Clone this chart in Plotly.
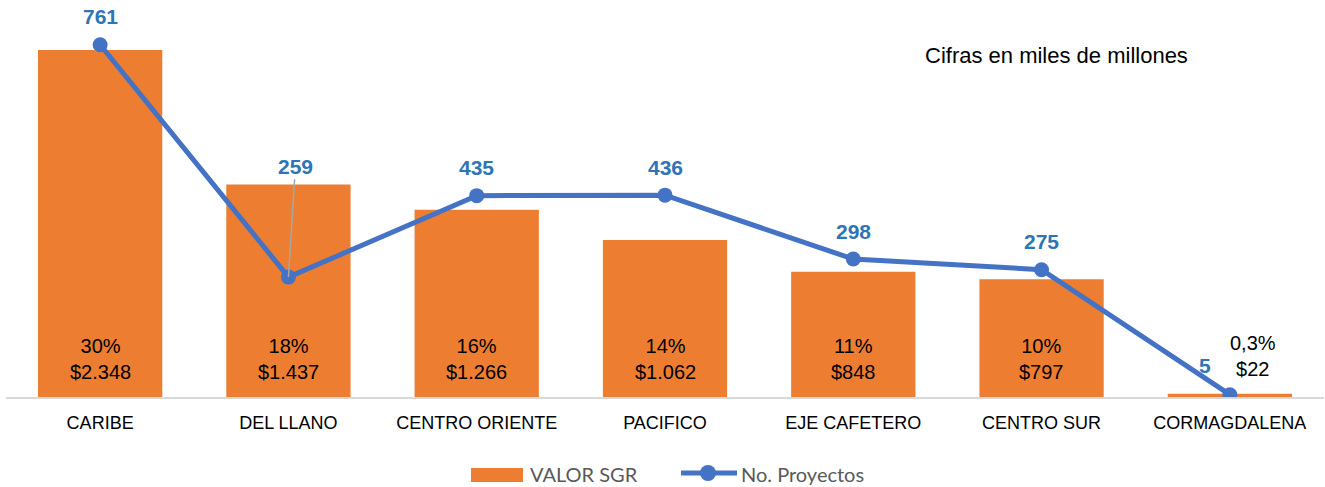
import plotly.graph_objects as go

categories = ["CARIBE", "DEL LLANO", "CENTRO ORIENTE", "PACIFICO", "EJE CAFETERO", "CENTRO SUR", "CORMAGDALENA"]
valor_sgr = [2348, 1437, 1266, 1062, 848, 797, 22]
valor_labels = ["$2.348", "$1.437", "$1.266", "$1.062", "$848", "$797", "$22"]
pct_labels = ["30%", "18%", "16%", "14%", "11%", "10%", "0,3%"]
proyectos = [761, 259, 435, 436, 298, 275, 5]

FONT = "Liberation Sans Narrow, Arial Narrow, Liberation Sans, Arial, sans-serif"
LEGFONT = "Lato, Open Sans, sans-serif"
ORANGE = "#ED7D31"
BLUE = "#4472C4"
LBLUE = "#2E75B6"

# plot-area geometry helpers (pixels -> paper)
L, R, T, B = 6, 1, 10, 90
W, H = 1325, 487
PW, PH = W - L - R, H - T - B


def px(x):
    return (x - L) / PW


def py(y):
    return (H - B - y) / PH


fig = go.Figure()
fig.add_trace(go.Bar(
    x=categories, y=valor_sgr, name="VALOR SGR",
    marker=dict(color=ORANGE, line=dict(width=0)),
    yaxis="y", hoverinfo="skip",
))
fig.add_trace(go.Scatter(
    x=categories, y=proyectos, name="No. Proyectos",
    mode="lines+markers",
    line=dict(color=BLUE, width=5),
    marker=dict(color=BLUE, size=15),
    yaxis="y2", hoverinfo="skip",
))

annotations = []
for i, (c, v, p, lab) in enumerate(zip(categories, valor_sgr, pct_labels, valor_labels)):
    if i < len(categories) - 1:
        annotations.append(dict(
            x=c, y=0, xref="x", yref="y", text=f"{p}<br>{lab}",
            showarrow=False, yanchor="bottom", yshift=12,
            font=dict(family=FONT, size=20, color="#000000"),
        ))
    else:
        annotations.append(dict(
            x=c, y=v, xref="x", yref="y", text=f"{p}<br>{lab}",
            showarrow=False, yanchor="bottom", yshift=12, xshift=23,
            font=dict(family=FONT, size=20, color="#000000"),
        ))

for c, n in zip(categories, proyectos):
    if c == "DEL LLANO":
        annotations.append(dict(
            x=c, y=n, xref="x", yref="y2", text=f"<b>{n}</b>",
            showarrow=True, arrowhead=0, arrowwidth=1.5, arrowcolor="#A6A6A6",
            ax=7, ay=-111, standoff=0,
            font=dict(family=FONT, size=21, color=LBLUE),
        ))
    elif c == "CORMAGDALENA":
        annotations.append(dict(
            x=c, y=n, xref="x", yref="y2", text=f"<b>{n}</b>",
            showarrow=False, xshift=-25, yshift=29,
            font=dict(family=FONT, size=21, color=LBLUE),
        ))
    else:
        annotations.append(dict(
            x=c, y=n, xref="x", yref="y2", text=f"<b>{n}</b>",
            showarrow=False, yshift=28,
            font=dict(family=FONT, size=21, color=LBLUE),
        ))

annotations.append(dict(
    x=px(1056), y=py(56), xref="paper", yref="paper", text="Cifras en miles de millones",
    xanchor="center", yanchor="middle",
    showarrow=False, font=dict(family=FONT, size=22, color="#000000"),
))

# custom legend
annotations.append(dict(
    x=px(528), y=py(474), xref="paper", yref="paper", text="VALOR SGR",
    xanchor="left", yanchor="middle", showarrow=False,
    font=dict(family=LEGFONT, size=20, color="#595959"),
))
annotations.append(dict(
    x=px(739), y=py(474), xref="paper", yref="paper", text="No. Proyectos",
    xanchor="left", yanchor="middle", showarrow=False,
    font=dict(family=LEGFONT, size=20, color="#595959"),
))
shapes = [
    dict(type="rect", xref="paper", yref="paper", x0=px(471), x1=px(523), y0=py(482), y1=py(468),
         fillcolor=ORANGE, line=dict(width=0)),
    dict(type="line", xref="paper", yref="paper", x0=px(681), x1=px(737), y0=py(473), y1=py(473),
         line=dict(color=BLUE, width=5)),
    dict(type="circle", xref="paper", yref="paper", x0=px(700), x1=px(716), y0=py(481), y1=py(465),
         fillcolor=BLUE, line=dict(width=0)),
]

fig.update_layout(
    width=W, height=H,
    margin=dict(l=L, r=R, t=T, b=B),
    paper_bgcolor="white", plot_bgcolor="white",
    bargap=0.34,
    showlegend=False,
    xaxis=dict(
        showgrid=False, showline=True, linecolor="#D9D9D9", linewidth=2,
        ticks="", tickfont=dict(family=FONT, size=18, color="#000000"),
        ticklabelstandoff=8,
    ),
    yaxis=dict(range=[0, 2618], visible=False, showgrid=False, zeroline=False),
    yaxis2=dict(range=[0, 836], overlaying="y", side="right", visible=False,
                showgrid=False, zeroline=False),
    annotations=annotations,
    shapes=shapes,
)

fig.write_html("out.html", config={"displayModeBar": False},
               post_script="document.body.style.margin='0px';")
